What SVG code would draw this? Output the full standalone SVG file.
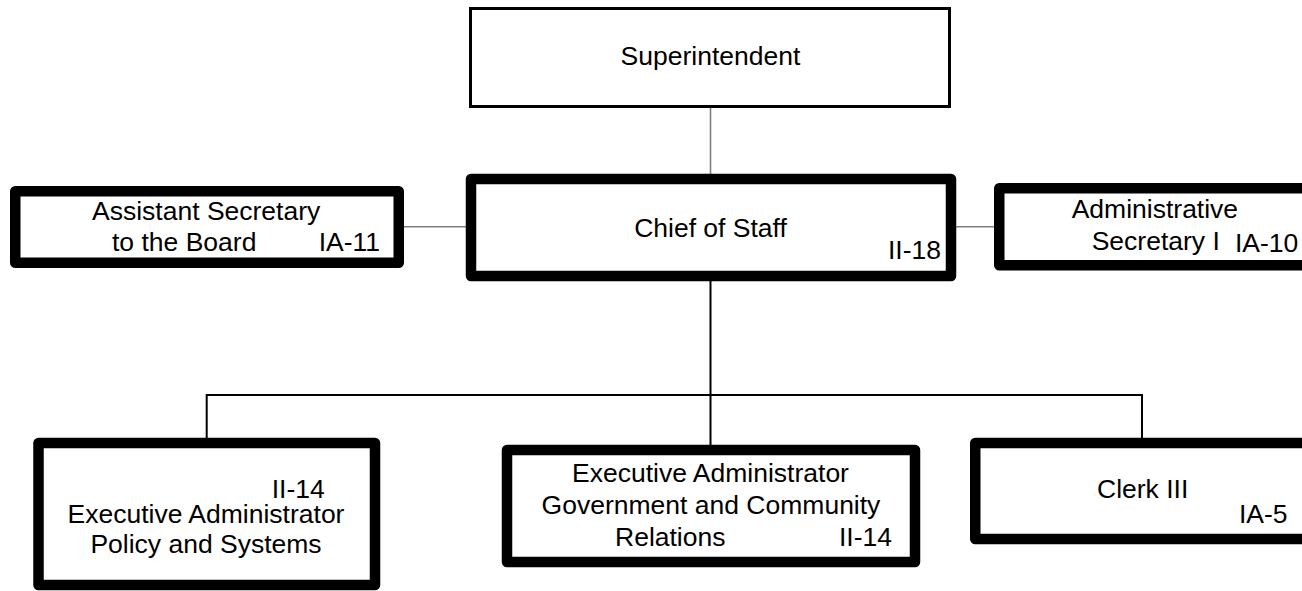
<svg xmlns="http://www.w3.org/2000/svg" width="1302" height="591" viewBox="0 0 1302 591">
  <style>
    .box { fill: #ffffff; stroke: #000000; stroke-width: 10.5; stroke-linejoin: round; }
    .thin { fill: #ffffff; stroke: #000000; stroke-width: 3; }
    text { font-family: "Liberation Sans", Arial, sans-serif; font-size: 26.5px; fill: #000000; }
    .mid { text-anchor: middle; }
    .end { text-anchor: end; }
    .gray { stroke: #808080; stroke-width: 1.6; fill: none; }
    .blk { stroke: #000000; stroke-width: 2; fill: none; }
  </style>
  <rect x="0" y="0" width="1302" height="591" fill="#ffffff"/>
  <g id="connectors">
    <line class="gray" x1="710.5" y1="108" x2="710.5" y2="174"/>
    <line class="gray" x1="404" y1="226.7" x2="466" y2="226.7"/>
    <line class="gray" x1="956" y1="226.7" x2="994" y2="226.7"/>
    <line class="blk" x1="710.5" y1="281" x2="710.5" y2="445"/>
    <polyline class="blk" points="206.7,438 206.7,395 1142,395 1142,438"/>
  </g>
  <g id="superintendent">
    <rect class="thin" x="470.5" y="8.5" width="479" height="98"/>
    <text class="mid" x="710.5" y="65">Superintendent</text>
  </g>
  <g id="chief-of-staff">
    <rect class="box" x="471" y="179" width="480" height="97"/>
    <text class="mid" x="710.5" y="237">Chief of Staff</text>
    <text class="end" x="941" y="259">II-18</text>
  </g>
  <g id="assistant-secretary">
    <rect class="box" x="15.25" y="191.25" width="383.5" height="71.5"/>
    <text x="92" y="220">Assistant Secretary</text>
    <text x="112" y="251">to the Board</text>
    <text class="end" x="380" y="251">IA-11</text>
  </g>
  <g id="administrative-secretary">
    <rect class="box" x="999.25" y="188.25" width="330" height="77"/>
    <text x="1071.7" y="218">Administrative</text>
    <text x="1091.7" y="250">Secretary I</text>
    <text x="1235" y="252">IA-10</text>
  </g>
  <g id="exec-admin-policy">
    <rect class="box" x="38.5" y="443" width="336.5" height="142"/>
    <text x="271.7" y="498">II-14</text>
    <text class="mid" x="206" y="523">Executive Administrator</text>
    <text class="mid" x="206" y="553">Policy and Systems</text>
  </g>
  <g id="exec-admin-gov">
    <rect class="box" x="507" y="450" width="408" height="112"/>
    <text class="mid" x="710.5" y="482">Executive Administrator</text>
    <text class="mid" x="711" y="514">Government and Community</text>
    <text x="615" y="546">Relations</text>
    <text class="end" x="892" y="546">II-14</text>
  </g>
  <g id="clerk-iii">
    <rect class="box" x="975.25" y="443" width="350" height="96"/>
    <text x="1097" y="498">Clerk III</text>
    <text x="1239" y="523">IA-5</text>
  </g>
</svg>
